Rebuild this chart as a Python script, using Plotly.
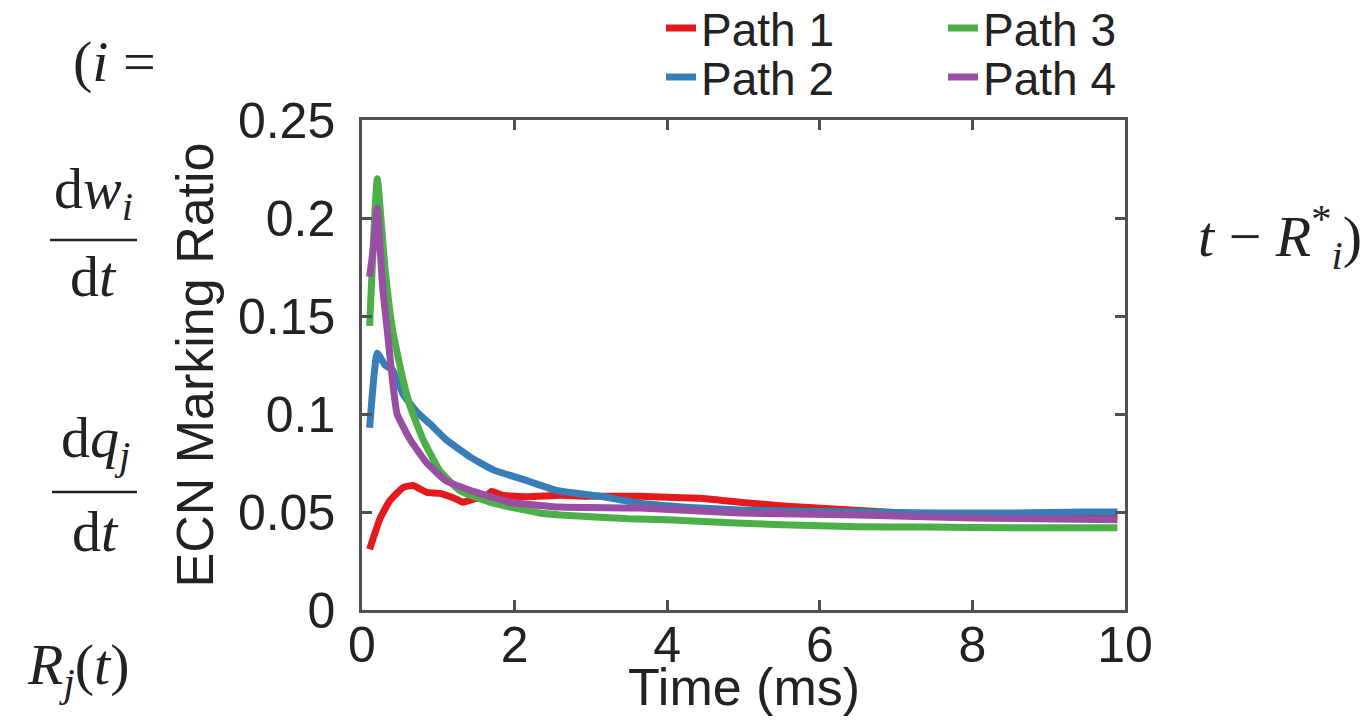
import plotly.graph_objects as go

# ---------------- data ----------------
path1_x = [0.1, 0.24, 0.37, 0.54, 0.67, 0.85, 1.02, 1.24, 1.32, 1.5, 1.62, 1.7, 1.85, 2.16, 2.6, 3.0, 3.64, 4.0, 4.43, 4.95, 5.4, 5.74, 6.4, 7.3, 8.0, 9.0, 9.9]
path1_y = [0.031, 0.047, 0.056, 0.0625, 0.0635, 0.060, 0.0595, 0.0565, 0.055, 0.057, 0.058, 0.0605, 0.0585, 0.0578, 0.0585, 0.058, 0.058, 0.0575, 0.057, 0.055, 0.0535, 0.0525, 0.051, 0.049, 0.0485, 0.048, 0.0475]

path2_x = [0.1, 0.2, 0.3, 0.4, 0.54, 0.72, 0.89, 1.1, 1.42, 1.72, 2.16, 2.55, 3.12, 3.64, 4.43, 4.95, 5.5, 6.5, 7.5, 8.5, 9.5, 9.9]
path2_y = [0.093, 0.131, 0.125, 0.1225, 0.11, 0.101, 0.095, 0.087, 0.078, 0.0715, 0.066, 0.061, 0.058, 0.0545, 0.052, 0.051, 0.0505, 0.050, 0.0495, 0.0495, 0.050, 0.050]

path3_x = [0.1, 0.2, 0.3, 0.4, 0.54, 0.63, 0.8, 1.02, 1.28, 1.72, 2.33, 2.6, 3.5, 4.0, 4.82, 5.5, 6.5, 7.44, 8.5, 9.9]
path3_y = [0.145, 0.22, 0.175, 0.143, 0.117, 0.104, 0.087, 0.071, 0.061, 0.0545, 0.0495, 0.0485, 0.0465, 0.046, 0.0445, 0.0435, 0.0425, 0.0423, 0.042, 0.042]

path4_x = [0.1, 0.15, 0.2, 0.27, 0.33, 0.4, 0.46, 0.63, 0.85, 1.1, 1.5, 1.94, 2.6, 3.64, 4.95, 6.5, 8.0, 9.9]
path4_y = [0.17, 0.185, 0.205, 0.165, 0.143, 0.117, 0.10, 0.087, 0.075, 0.066, 0.06, 0.055, 0.0525, 0.052, 0.0495, 0.0485, 0.047, 0.046]

series_names = ["Path 1", "Path 2", "Path 3", "Path 4"]
series_colors = ["#e41a1c", "#377eb8", "#4daf4a", "#984ea3"]

x_tickvals = [0, 2, 4, 6, 8, 10]
x_ticktext = ["0", "2", "4", "6", "8", "10"]
y_tickvals = [0, 0.05, 0.1, 0.15, 0.2, 0.25]
y_ticktext = ["0", "0.05", "0.1", "0.15", "0.2", "0.25"]

x_title = "Time (ms)"
y_title = "ECN Marking Ratio"

# ---------------- layout geometry ----------------
W, H = 1368, 725
L, R, T, B = 362, 1125, 120, 610
PW, PH = R - L, B - T


def px(x):
    return (x - L) / PW


def py(y):
    return (B - y) / PH


sans = "Liberation Sans, Arial, Helvetica, sans-serif"
serif = "Liberation Serif, Times New Roman, serif"
axis_col = "#505050"
text_col = "#222222"

fig = go.Figure()
xs = [path1_x, path2_x, path3_x, path4_x]
ys = [path1_y, path2_y, path3_y, path4_y]
legend_ids = ["legend", "legend2", "legend3", "legend4"]
for name, col, x, y, lg in zip(series_names, series_colors, xs, ys, legend_ids):
    fig.add_trace(go.Scatter(x=x, y=y, mode="lines", name=name,
                             line=dict(color=col, width=7, shape="spline", smoothing=0.4),
                             legend=lg))

axis_common = dict(showline=True, linecolor=axis_col, linewidth=2.5, mirror="ticks",
                   ticks="inside", ticklen=10, tickwidth=2.5, tickcolor=axis_col,
                   showgrid=False, zeroline=False, automargin=False,
                   tickfont=dict(family=sans, size=50, color=text_col))

fig.update_xaxes(range=[0, 10], tickvals=x_tickvals, ticktext=x_ticktext,
                 ticklabelstandoff=-11, **axis_common)
fig.update_yaxes(range=[0, 0.25], tickvals=y_tickvals, ticktext=y_ticktext,
                 title=dict(text=y_title, font=dict(family=sans, size=52, color=text_col), standoff=8),
                 ticklabelstandoff=14, **axis_common)

leg_common = dict(orientation="v", yanchor="middle", xanchor="left", bgcolor="rgba(0,0,0,0)",
                  font=dict(family=sans, size=46, color=text_col), borderwidth=0)
# legend slots: (text-left x px, row center y px)
legend_slots = [(703, 28), (703, 77), (985, 28), (985, 77)]
layout_legends = {}
for lg, (lx, ly) in zip(legend_ids, legend_slots):
    layout_legends[lg] = dict(x=px(lx - 42), y=py(ly), **leg_common)

fig.update_layout(
    width=W, height=H, autosize=False,
    margin=dict(l=L, r=W - R, t=T, b=H - B, pad=0, autoexpand=False),
    paper_bgcolor="white", plot_bgcolor="white",
    showlegend=True,
    **layout_legends,
)

# x-axis title (placed as annotation so it can sit close to the tick labels as in the source)
fig.add_annotation(text=x_title, x=0.5, y=py(687), xref="paper", yref="paper",
                   xanchor="center", yanchor="middle", showarrow=False,
                   font=dict(family=sans, size=52, color=text_col))

# decorative math fragments from the surrounding page
math_items = [
    ("(<i>i</i> =", 114, 62),
    ("d<i>w<sub>i</sub></i>", 93, 192),
    ("d<i>t</i>", 93, 276),
    ("d<i>q<sub>j</sub></i>", 95, 441),
    ("d<i>t</i>", 95, 531),
    ("<i>R<sub>j</sub></i>(<i>t</i>)", 78, 668),
    ("<i>t</i> − <i>R</i><sup>*</sup><sub><i>i</i></sub>)", 1280, 237),
]
for txt, x0, y0 in math_items:
    fig.add_annotation(text=txt, x=px(x0), y=py(y0), xref="paper", yref="paper",
                       xanchor="center", yanchor="middle", showarrow=False,
                       font=dict(family=serif, size=58, color=text_col))

for x0, x1, y0 in [(50, 137, 240), (52, 137, 492)]:
    fig.add_shape(type="line", xref="paper", yref="paper",
                  x0=px(x0), x1=px(x1), y0=py(y0), y1=py(y0),
                  line=dict(color=text_col, width=2.5))

fig.write_html("out.html")
